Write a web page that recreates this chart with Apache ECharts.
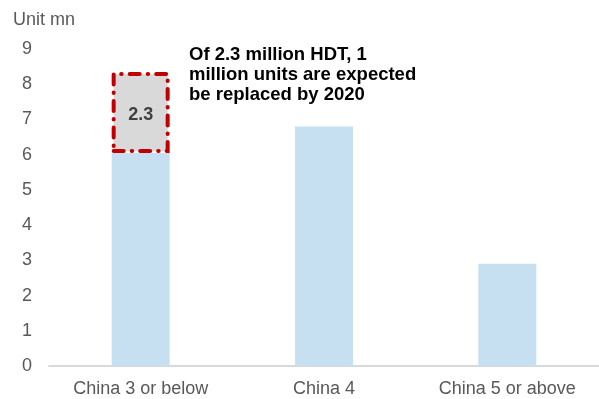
<!DOCTYPE html>
<html>
<head>
<meta charset="utf-8">
<script src="https://cdn.jsdelivr.net/npm/echarts@6/dist/echarts.min.js"></script>
<style>
  html, body { margin: 0; padding: 0; background: #fff; }
  #chart { width: 599px; height: 399px; }
</style>
</head>
<body>
<div id="chart"></div>
<script>
// chart data
const categories = ['China 3 or below', 'China 4', 'China 5 or above']
const baseValues = [6.05, 6.8, 2.9]
const replaceValues = [2.3, '-', '-']
const unitLabel = 'Unit mn'
const noteText = 'Of 2.3 million HDT, 1\nmillion units are expected\nbe replaced by 2020'

const font = '"Liberation Sans", Arial, sans-serif'

const chart = echarts.init(document.getElementById('chart'))

chart.setOption({
  animation: false,
  backgroundColor: '#ffffff',
  textStyle: { fontFamily: font },
  grid: { left: 49, top: 49, width: 555, height: 317, containLabel: false },
  xAxis: {
    type: 'category',
    data: categories,
    axisLine: { lineStyle: { color: '#d9d9d9', width: 2 } },
    axisTick: { show: false },
    axisLabel: { color: '#595959', fontSize: 18, margin: 14, fontFamily: font }
  },
  yAxis: {
    type: 'value',
    min: 0,
    max: 9,
    interval: 1,
    axisLine: { show: false },
    axisTick: { show: false },
    splitLine: { show: false },
    axisLabel: { color: '#595959', fontSize: 18, margin: 17, fontFamily: font }
  },
  graphic: [
    {
      type: 'text',
      left: 13,
      top: 11,
      style: { text: unitLabel, fill: '#595959', font: '18px ' + font }
    },
    {
      type: 'text',
      left: 189,
      top: 45,
      style: {
        text: noteText,
        fill: '#000000',
        font: 'bold 18.5px ' + font,
        lineHeight: 20
      }
    }
  ],
  series: [
    {
      name: 'base',
      type: 'bar',
      stack: 'total',
      barWidth: 58,
      data: baseValues,
      itemStyle: { color: '#c6e0f2' }
    },
    {
      name: 'replace',
      type: 'bar',
      stack: 'total',
      barWidth: 58,
      data: replaceValues,
      itemStyle: {
        color: '#d9d9d9',
        borderColor: '#c00000',
        borderWidth: 4,
        borderType: [10, 8, 0.5, 8],
        borderCap: 'round'
      },
      label: {
        show: true,
        position: 'inside',
        color: '#404040',
        fontSize: 18,
        fontWeight: 'bold',
        fontFamily: font,
        offset: [0, 3]
      }
    }
  ]
})
</script>
</body>
</html>
